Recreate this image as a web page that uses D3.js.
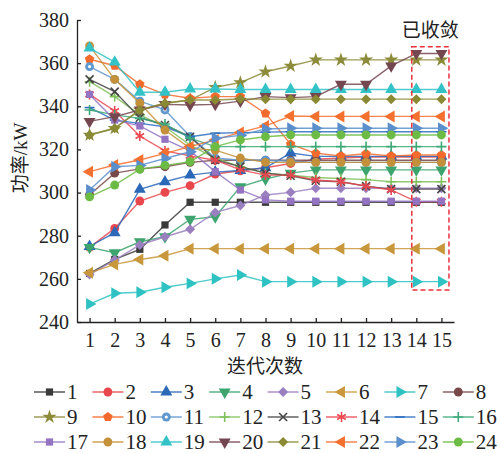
<!DOCTYPE html>
<html>
<head>
<meta charset="utf-8">
<script src="https://cdn.jsdelivr.net/npm/d3@7"></script>
<style>
  body { margin: 0; background: #fff; }
  text { font-family: "Liberation Serif", "Noto Sans CJK SC", serif; fill: #222; }
</style>
</head>
<body>
<div class="chart"></div>
<script>
// iteration numbers and y ticks
var iterations = [1, 2, 3, 4, 5, 6, 7, 8, 9, 10, 11, 12, 13, 14, 15];
var yTicks = [240, 260, 280, 300, 320, 340, 360, 380];

// power (kW) of each unit per iteration
var s1  = [262.5, 269, 273.7, 285, 295.5, 295.5, 295.5, 295.5, 295.5, 295.5, 295.5, 295.5, 295.5, 295.5, 295.5];
var s2  = [274.6, 283.4, 296.1, 300.1, 303.2, 308.6, 310.1, 311.5, 313.5, 315.5, 316, 316.5, 316.5, 316.5, 316.5];
var s3  = [275, 281.4, 301.5, 305, 308.1, 309.5, 310.2, 311.5, 318.3, 316.8, 316.8, 316.8, 316.8, 316.8, 316.8];
var s4  = [274.6, 272.1, 277.2, 279.5, 287.6, 288.8, 302.7, 306.3, 309, 310.5, 310.5, 310.5, 310.5, 310.5, 310.5];
var s5  = [262, 268.7, 275.7, 279.5, 283, 290.8, 294, 298.9, 300.1, 302, 302, 302, 302, 302, 302];
var s6  = [262.8, 266.7, 269, 270.7, 274, 274, 274, 274, 274, 274, 274, 274, 274, 274, 274];
var s7  = [248.3, 253.3, 253.8, 256.1, 257.9, 260, 261.8, 258.7, 258.7, 258.7, 258.7, 258.7, 258.7, 258.7, 258.7];
var s8  = [299, 309, 311, 312, 314, 315, 315, 315, 315, 315, 315, 315, 315, 315, 315];
var s9  = [326.7, 329.8, 338.3, 341.4, 342.9, 348.8, 351, 356, 358.7, 361.5, 361.5, 361.5, 361.5, 361.5, 361.5];
var s10 = [361.8, 358.8, 350.2, 345.5, 343.7, 344.5, 344.5, 336.7, 322.4, 318.2, 317, 318, 317, 317.4, 317.4];
var s11 = [358.4, 352.5, 342.4, 338.3, 326, 316, 315, 315, 314.5, 314, 314, 314, 314, 314, 314];
var s12 = [351.4, 344.5, 336, 330.5, 322, 316, 312, 309, 308, 307, 306.5, 306, 305, 305, 305];
var s13 = [352.5, 346.8, 334.7, 331.3, 325.9, 315.1, 312, 309, 307.8, 305.5, 305, 303, 301.6, 301.6, 301.6];
var s14 = [345.5, 337.8, 326.2, 319.3, 317, 315, 310.5, 308.1, 308.1, 305.8, 305, 303, 301.2, 295.8, 295.8];
var s15 = [339.4, 333.6, 332.1, 330.5, 325.9, 327.5, 327.8, 328, 328.2, 328.2, 328.2, 328.2, 328.2, 328.2, 328.2];
var s16 = [338.3, 336, 334.4, 331.8, 325.2, 321.3, 321.3, 321.3, 321.3, 321.3, 321.3, 321.3, 321.3, 321.3, 321.3];
var s17 = [345.5, 333.6, 330.9, 324.7, 319.3, 309.7, 301.2, 296.6, 296, 296, 296, 296, 296, 296, 296];
var s18 = [368, 352.5, 341.4, 329, 320.5, 319.7, 316, 314, 314, 314, 314, 314, 314, 314, 314];
var s19 = [367, 360.5, 346.5, 346.5, 348, 348, 347.8, 347.8, 347.8, 347.8, 347.8, 347.8, 347.8, 347.8, 347.8];
var s20 = [333, 335.2, 338.3, 340.9, 340.6, 340.9, 342.4, 344.5, 344, 344.5, 350.2, 350.2, 358.7, 364.5, 364.5];
var s21 = [326.7, 329.8, 338.3, 341.4, 342.9, 342.9, 343.4, 343.3, 343.3, 343.3, 343.3, 343.3, 343.3, 343.3, 343.3];
var s22 = [309.7, 312.8, 315.1, 318.2, 321.3, 324.4, 327.9, 330.9, 335.5, 335.3, 335.3, 335.3, 335.3, 335.3, 335.3];
var s23 = [301.2, 312, 312.6, 315.8, 318.9, 325.2, 326.5, 329.5, 329.8, 329.8, 329.8, 329.8, 329.8, 329.8, 329.8];
var s24 = [298, 303.5, 310.8, 312.6, 314.3, 321.3, 324.4, 325.9, 326.7, 326.7, 326.7, 326.7, 326.7, 326.7, 326.7];

var seriesNames = ["1", "2", "3", "4", "5", "6", "7", "8", "9", "10", "11", "12",
                   "13", "14", "15", "16", "17", "18", "19", "20", "21", "22", "23", "24"];
var seriesValues = [s1, s2, s3, s4, s5, s6, s7, s8, s9, s10, s11, s12,
                    s13, s14, s15, s16, s17, s18, s19, s20, s21, s22, s23, s24];

// styles
var seriesColors = ["#3a3a3a", "#e8474c", "#2b68b8", "#3ea46e", "#9b80c0", "#c8973b", "#2fc2c2", "#784849",
                    "#8c8b3a", "#f26a2c", "#5f97cf", "#80c15c", "#454545", "#ea4850", "#2d6fbf", "#3ea978",
                    "#9474c2", "#c4913a", "#33c2c6", "#744650", "#8a8a35", "#f4702f", "#5b8fcc", "#6cbb44"];
var seriesMarkers = ["square", "circle", "up", "down", "diamond", "left", "right", "circle",
                     "star", "pentagon", "dot", "plus", "times", "asterisk", "dash", "plus",
                     "square", "circle", "up", "down", "diamond", "left", "right", "circle"];

var svgWidth = 501;
var svgHeight = 453;

var svg = d3.select(".chart")
  .append("svg")
  .attr("width", svgWidth)
  .attr("height", svgHeight);

var xScale = d3.scaleLinear().domain([0.5, 15.5]).range([77, 454]);
var yScale = d3.scaleLinear().domain([240, 380]).range([322, 20]);

// marker shape -> {d, rotate, stroke}
function markerShape(type) {
  switch (type) {
    case "square":  return { d: d3.symbol(d3.symbolSquare, 52)(), rot: 0 };
    case "circle":  return { d: d3.symbol(d3.symbolCircle, 62)(), rot: 0 };
    case "dot":     return { d: d3.symbol(d3.symbolCircle, 62)(), rot: 0, dot: true };
    case "up":      return { d: d3.symbol(d3.symbolTriangle, 62)(), rot: 0 };
    case "down":    return { d: d3.symbol(d3.symbolTriangle, 62)(), rot: 180 };
    case "left":    return { d: d3.symbol(d3.symbolTriangle, 62)(), rot: -90 };
    case "right":   return { d: d3.symbol(d3.symbolTriangle, 62)(), rot: 90 };
    case "diamond": return { d: d3.symbol(d3.symbolSquare, 50)(), rot: 45 };
    case "star":    return { d: d3.symbol(d3.symbolStar, 62)(), rot: 0 };
    case "pentagon":
      var pts = d3.range(5).map(function(k) {
        var a = -Math.PI / 2 + k * 2 * Math.PI / 5;
        return [5 * Math.cos(a), 5 * Math.sin(a)];
      });
      return { d: "M" + pts.join("L") + "Z", rot: 0 };
    case "plus":    return { d: "M-5,0H5M0,-5V5", rot: 0, stroke: true };
    case "times":   return { d: "M-4,-4L4,4M-4,4L4,-4", rot: 0, stroke: true };
    case "asterisk":return { d: "M0,-5V5M-4.3,-2.5L4.3,2.5M-4.3,2.5L4.3,-2.5", rot: 0, stroke: true };
    case "dash":    return { d: "M-5,0H5", rot: 0, stroke: true };
  }
}

function drawMarker(g, type, color, cx, cy) {
  var m = markerShape(type);
  var p = g.append("path")
    .attr("d", m.d)
    .attr("transform", "translate(" + cx + "," + cy + ") rotate(" + m.rot + ")");
  if (m.stroke) {
    p.attr("fill", "none").attr("stroke", color).attr("stroke-width", 1.6);
  } else {
    p.attr("fill", color);
  }
  if (m.dot) {
    g.append("circle").attr("cx", cx).attr("cy", cy).attr("r", 1.6).attr("fill", "#fff");
  }
}

// axes
var leftAxis = d3.axisLeft(yScale).tickValues(yTicks).tickSizeInner(-4).tickSizeOuter(0).tickPadding(8);
var bottomAxis = d3.axisBottom(xScale).tickValues(iterations).tickSizeInner(-4).tickSizeOuter(0).tickPadding(11);

var yAxis = svg.append("g")
  .attr("transform", "translate(77,0)")
  .call(leftAxis);
var xAxis = svg.append("g")
  .attr("transform", "translate(0,322)")
  .call(bottomAxis);

[xAxis, yAxis].forEach(function(ax) {
  ax.selectAll("path, line").attr("stroke", "#222").attr("stroke-width", 1.3);
  ax.selectAll("text")
    .attr("font-size", "20px")
    .attr("font-family", "Liberation Serif, serif")
    .attr("fill", "#222");
});

// series lines and markers
var line = d3.line()
  .x(function(d, i) { return xScale(iterations[i]); })
  .y(function(d) { return yScale(d); });

var plot = svg.append("g");
seriesValues.forEach(function(vals, k) {
  var g = plot.append("g");
  g.append("path")
    .datum(vals)
    .attr("d", line)
    .attr("fill", "none")
    .attr("stroke", seriesColors[k])
    .attr("stroke-opacity", 0.85)
    .attr("stroke-width", 1.4);
  vals.forEach(function(v, i) {
    drawMarker(g, seriesMarkers[k], seriesColors[k], xScale(iterations[i]), yScale(v));
  });
});

// converged box
svg.append("rect")
  .attr("x", xScale(13.82))
  .attr("y", yScale(367.6))
  .attr("width", xScale(15.3) - xScale(13.82))
  .attr("height", yScale(254.8) - yScale(367.6))
  .attr("fill", "none")
  .attr("stroke", "#e8333b")
  .attr("stroke-width", 1.5)
  .attr("stroke-dasharray", "5,3");

svg.append("text")
  .attr("x", xScale(14.56))
  .attr("y", 37)
  .attr("text-anchor", "middle")
  .attr("font-size", "19px")
  .attr("font-family", "Noto Sans CJK SC, sans-serif")
  .attr("fill", "#333")
  .text("已收敛");

// axis titles
svg.append("text")
  .attr("x", 265)
  .attr("y", 373)
  .attr("text-anchor", "middle")
  .attr("font-size", "19px")
  .attr("font-family", "Noto Sans CJK SC, sans-serif")
  .attr("fill", "#333")
  .text("迭代次数");

svg.append("text")
  .attr("transform", "translate(27,158) rotate(-90)")
  .attr("text-anchor", "middle")
  .attr("font-size", "19px")
  .attr("font-family", "Noto Sans CJK SC, sans-serif")
  .attr("fill", "#333")
  .text("功率/kW");

// legend
var legend = svg.append("g");
seriesNames.forEach(function(name, k) {
  var col = k % 8, row = Math.floor(k / 8);
  var x0 = 34 + col * 58.4;
  var y0 = 392 + row * 25;
  legend.append("line")
    .attr("x1", x0).attr("x2", x0 + 31)
    .attr("y1", y0).attr("y2", y0)
    .attr("stroke", seriesColors[k])
    .attr("stroke-opacity", 0.85)
    .attr("stroke-width", 1.5);
  drawMarker(legend, seriesMarkers[k], seriesColors[k], x0 + 15.5, y0);
  legend.append("text")
    .attr("x", x0 + 33)
    .attr("y", y0 + 7)
    .attr("font-size", "21px")
    .attr("fill", "#222")
    .text(name);
});
</script>
</body>
</html>
